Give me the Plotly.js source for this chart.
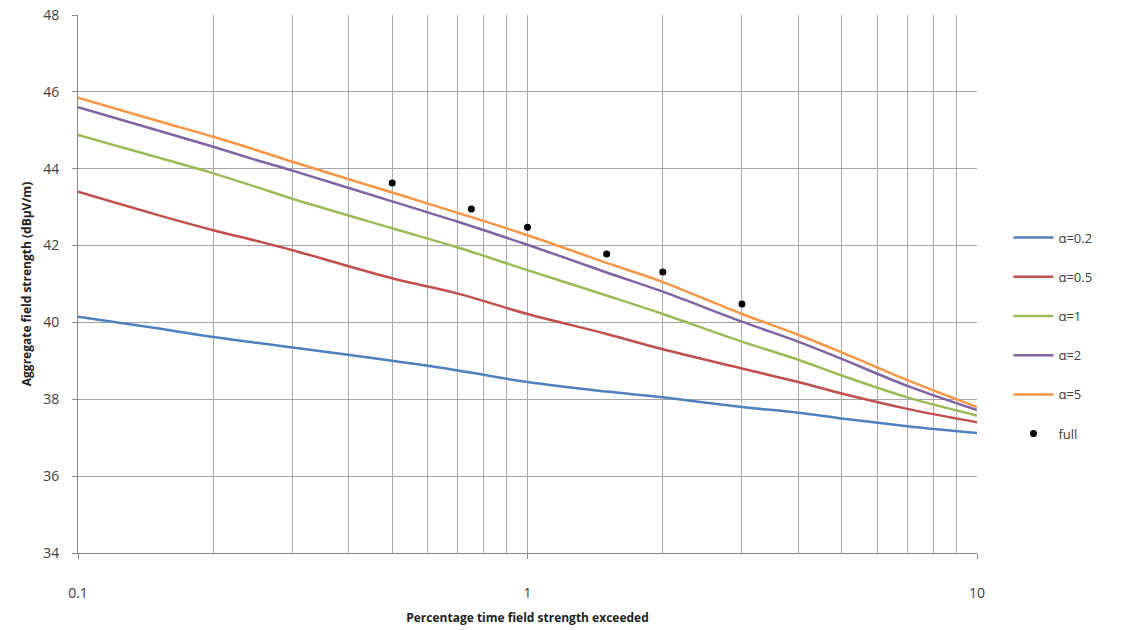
<!DOCTYPE html>
<html>
<head>
<meta charset="utf-8">
<script src="https://cdn.plot.ly/plotly-3.0.1.min.js"></script>
<style>html,body{margin:0;padding:0;background:#fff;}#chart{width:1127px;height:630px;}</style>
</head>
<body>
<div id="chart"></div>
<script>
const percentTime = [0.1, 0.15, 0.2, 0.25, 0.3, 0.5, 0.7, 1, 1.5, 2, 3, 4, 5, 7, 10];
const alpha02 = [40.15, 39.85, 39.62, 39.47, 39.35, 39.0, 38.75, 38.45, 38.2, 38.05, 37.8, 37.65, 37.5, 37.3, 37.12];
const alpha05 = [43.4, 42.8, 42.4, 42.12, 41.88, 41.15, 40.75, 40.22, 39.7, 39.3, 38.8, 38.45, 38.15, 37.75, 37.4];
const alpha1 = [44.88, 44.3, 43.88, 43.52, 43.22, 42.45, 41.95, 41.36, 40.7, 40.22, 39.5, 39.03, 38.62, 38.05, 37.58];
const alpha2 = [45.6, 45.0, 44.57, 44.22, 43.95, 43.15, 42.62, 42.02, 41.3, 40.8, 40.02, 39.5, 39.05, 38.35, 37.72];
const alpha5 = [45.85, 45.25, 44.83, 44.48, 44.18, 43.38, 42.85, 42.27, 41.55, 41.05, 40.22, 39.68, 39.22, 38.5, 37.8];
const fullX = [0.5, 0.75, 1, 1.5, 2, 3];
const fullY = [43.63, 42.95, 42.48, 41.78, 41.31, 40.48];
const seriesNames = ['α=0.2', 'α=0.5', 'α=1', 'α=2', 'α=5', 'full'];
const xTickVals = [0.1, 1, 10];
const xTickText = ['0.1', '1', '10'];
const xMinorVals = [0.2,0.3,0.4,0.5,0.6,0.7,0.8,0.9,2,3,4,5,6,7,8,9];

const colors = ['#4F81BD', '#C0504D', '#9BBB59', '#8064A2', '#F79646'];
const lineSeries = [alpha02, alpha05, alpha1, alpha2, alpha5];
const traces = lineSeries.map((ys, i) => ({
  x: percentTime, y: ys, type: 'scatter', mode: 'lines', name: seriesNames[i],
  legendgroup: 'g' + i,
  line: {color: colors[i], width: 2.5, shape: 'spline', smoothing: 1.0}
}));
traces.push({
  x: fullX, y: fullY, type: 'scatter', mode: 'markers', name: seriesNames[5],
  legendgroup: 'g5',
  marker: {color: '#000', size: 7, symbol: 'circle'}
});

const font = {family: 'Open Sans, DejaVu Sans, sans-serif', size: 12, color: '#404040'};
const layout = {
  width: 1127, height: 630,
  margin: {l: 78, r: 150, t: 15, b: 77},
  paper_bgcolor: '#fff', plot_bgcolor: '#fff',
  font: font,
  showlegend: true,
  legend: {x: 1.035, y: 0.614, xanchor: 'left', yanchor: 'top', tracegroupgap: 19.3,
           font: {family: 'Open Sans, DejaVu Sans, sans-serif', size: 13, color: '#404040'},
           itemwidth: 40, bgcolor: 'rgba(0,0,0,0)'},
  xaxis: {
    type: 'log', range: [-1, 1],
    tickvals: xTickVals, ticktext: xTickText,
    showgrid: true, gridcolor: '#aaaaaa', gridwidth: 1,
    minor: {tickvals: xMinorVals, showgrid: true, gridcolor: '#aaaaaa', gridwidth: 1, ticks: ''},
    showline: true, linecolor: '#888', linewidth: 1,
    ticks: 'outside', ticklen: 5, tickcolor: '#888',
    ticklabelstandoff: 22,
    tickfont: {size: 14, color: '#404040'},
    zeroline: false,
    title: {text: 'Percentage time field strength exceeded', standoff: 12,
            font: {size: 12, color: '#222', weight: 'bold', family: 'Open Sans, DejaVu Sans, sans-serif'}}
  },
  yaxis: {
    range: [34, 48], dtick: 2, tick0: 34,
    showgrid: true, gridcolor: '#a5a5a5', gridwidth: 1,
    showline: true, linecolor: '#888', linewidth: 1,
    ticks: 'outside', ticklen: 5, tickcolor: '#888',
    ticklabelstandoff: 10,
    tickfont: {size: 14, color: '#404040'},
    zeroline: false,
    title: {text: 'Aggregate field strength (dBμV/m)', standoff: 8,
            font: {size: 12, color: '#222', weight: 'bold', family: 'Open Sans, DejaVu Sans, sans-serif'}}
  }
};
Plotly.newPlot('chart', traces, layout, {displayModeBar: false, staticPlot: true});
</script>
</body>
</html>
